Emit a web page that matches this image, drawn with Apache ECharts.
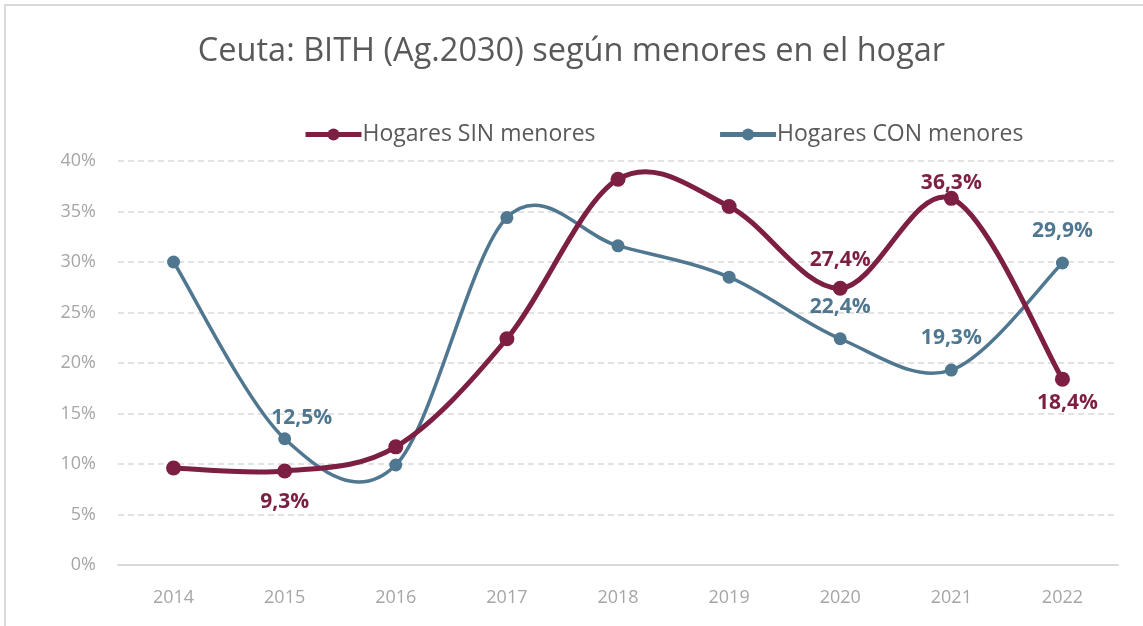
<!DOCTYPE html>
<html lang="es">
<head>
	<meta charset="UTF-8">
	<title>Ceuta: BITH (Ag.2030) según menores en el hogar</title>
	<script src="https://cdn.jsdelivr.net/npm/echarts@6/dist/echarts.min.js"></script>
	<style>
		html, body { margin:0; padding:0; background:#fff; overflow:hidden; }
		#frame { position:absolute; left:4px; top:4px; width:1160px; height:640px; border:2px solid #D9D9D9; }
		#chart { position:absolute; left:0; top:0; width:1143px; height:626px; }
	</style>
</head>
<body>
	<div id="frame"></div>
	<div id="chart"></div>

	<script>
	// datos
	var years = ['2014', '2015', '2016', '2017', '2018', '2019', '2020', '2021', '2022'];
	var sinMenores = [9.6, 9.3, 11.7, 22.4, 38.2, 35.5, 27.4, 36.3, 18.4];
	var conMenores = [30.0, 12.5, 9.9, 34.4, 31.6, 28.5, 22.4, 19.3, 29.9];
	var yTicks = [0, 5, 10, 15, 20, 25, 30, 35, 40];

	// etiquetas visibles: año -> [posición, distancia, desplazamiento x, desplazamiento y]
	var sinLabels = { '2015': ['bottom', 13, 0, 0], '2020': ['top', 10, 0, 0], '2021': ['top', 0, 0, 3], '2022': ['bottom', 6, 5, 0] };
	var conLabels = { '2015': ['top', 4, 17, 0], '2020': ['top', 15, 0, 0], '2021': ['top', 15, 0, 0], '2022': ['top', 15, 0, 0] };

	var cRed = '#7C1F43';
	var cBlue = '#4F7790';
	var font = 'Open Sans';

	function fmt(v) {
		return v.toFixed(1).replace('.', ',') + '%';
	}

	function buildData(values, labels, color) {
		return values.map(function (v, i) {
			var item = { value: v };
			var l = labels[years[i]];
			if (l) {
				item.label = {
					show: true,
					position: l[0],
					distance: l[1],
					offset: [l[2], l[3]],
					formatter: fmt(v),
					color: color,
					fontFamily: font,
					fontSize: 21,
					fontWeight: 'bold'
				};
			}
			return item;
		});
	}

	// curva suavizada tipo Excel (Catmull-Rom) sobre las coordenadas del eje
	function curveRenderer(values, color, width) {
		return function (params, api) {
			var i = params.dataIndex;
			var n = values.length;
			if (i >= n - 1) return null;
			var pt = function (k) {
				k = Math.max(0, Math.min(n - 1, k));
				return api.coord([k, values[k]]);
			};
			var p0 = pt(i - 1), p1 = pt(i), p2 = pt(i + 1), p3 = pt(i + 2);
			var t = 1 / 6;
			return {
				type: 'bezierCurve',
				shape: {
					x1: p1[0], y1: p1[1],
					x2: p2[0], y2: p2[1],
					cpx1: p1[0] + (p2[0] - p0[0]) * t,
					cpy1: p1[1] + (p2[1] - p0[1]) * t,
					cpx2: p2[0] - (p3[0] - p1[0]) * t,
					cpy2: p2[1] - (p3[1] - p1[1]) * t
				},
				style: { stroke: color, lineWidth: width, fill: 'none', lineCap: 'round' }
			};
		};
	}

	function pairs(values) {
		return values.map(function (v, i) { return [i, v]; });
	}

	var chart = echarts.init(document.getElementById('chart'), null, { renderer: 'canvas' });
	var option = {
		animation: false,
		title: {
			text: 'Ceuta: BITH (Ag.2030) según menores en el hogar',
			left: 'center',
			top: 30,
			textStyle: {
				color: '#595959',
				fontFamily: font,
				fontSize: 32.5,
				fontWeight: 'normal'
			}
		},
		legend: {
			top: 118,
			left: 298,
			itemWidth: 56,
			itemHeight: 15,
			itemGap: 122,
			textStyle: {
				color: '#595959',
				fontFamily: font,
				fontSize: 23,
				padding: [0, 0, 0, -4]
			},
			data: [
				{ name: 'Hogares SIN menores', itemStyle: { color: cRed }, lineStyle: { color: cRed, width: 5, opacity: 1 } },
				{ name: 'Hogares CON menores', itemStyle: { color: cBlue }, lineStyle: { color: cBlue, width: 5, opacity: 1 } }
			]
		},
		grid: {
			left: 118,
			right: 25,
			top: 161,
			bottom: 61
		},
		xAxis: {
			type: 'category',
			boundaryGap: true,
			data: years,
			axisLine: { lineStyle: { color: '#D9D9D9', width: 2 } },
			axisTick: { show: false },
			axisLabel: {
				color: '#A6A6A6',
				fontFamily: font,
				fontSize: 18,
				margin: 24
			}
		},
		yAxis: {
			type: 'value',
			min: yTicks[0],
			max: yTicks[yTicks.length - 1],
			interval: 5,
			axisLine: { show: false },
			axisTick: { show: false },
			axisLabel: {
				color: '#A6A6A6',
				fontFamily: font,
				fontSize: 18,
				margin: 22,
				formatter: '{value}%'
			},
			splitLine: {
				lineStyle: { color: '#D9D9D9', type: [6, 4], width: 1.5 }
			}
		},
		series: [
			{
				name: 'curvaCon',
				type: 'custom',
				z: 2,
				silent: true,
				renderItem: curveRenderer(conMenores, cBlue, 3.5),
				data: pairs(conMenores)
			},
			{
				name: 'curvaSin',
				type: 'custom',
				z: 3,
				silent: true,
				renderItem: curveRenderer(sinMenores, cRed, 5),
				data: pairs(sinMenores)
			},
			{
				name: 'Hogares SIN menores',
				type: 'line',
				symbol: 'circle',
				symbolSize: 15,
				z: 5,
				lineStyle: { color: cRed, width: 5, opacity: 0 },
				itemStyle: { color: cRed },
				data: buildData(sinMenores, sinLabels, cRed)
			},
			{
				name: 'Hogares CON menores',
				type: 'line',
				symbol: 'circle',
				symbolSize: 13,
				z: 4,
				lineStyle: { color: cBlue, width: 4, opacity: 0 },
				itemStyle: { color: cBlue },
				data: buildData(conMenores, conLabels, cBlue)
			}
		]
	};
	chart.setOption(option);
	</script>
</body>
</html>
